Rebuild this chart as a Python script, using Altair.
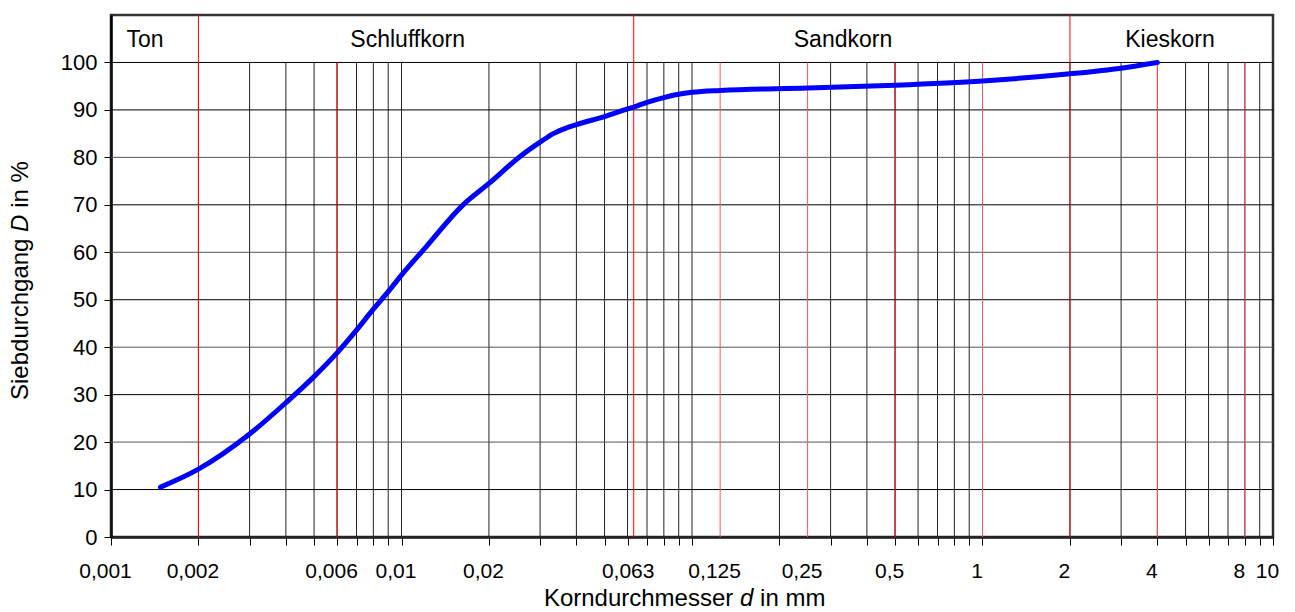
import altair as alt
import pandas as pd

# ---- data ----
d_mm = [0.00148, 0.002, 0.003, 0.004, 0.005, 0.006, 0.007, 0.008, 0.009, 0.01,
        0.0119, 0.0163, 0.02, 0.0256, 0.03, 0.0333, 0.037, 0.04, 0.05, 0.06, 0.063,
        0.07, 0.08, 0.09, 0.1, 0.125, 0.25, 0.5, 1, 2, 3, 4]
D_pct = [10.5, 14.3, 21.7, 28.3, 33.8, 38.8, 43.6, 48.0, 51.7, 55.2,
         60.5, 70.0, 74.5, 80.2, 83.2, 85.0, 86.2, 86.9, 88.6, 90.2, 90.6,
         91.6, 92.6, 93.3, 93.7, 94.1, 94.6, 95.2, 96.1, 97.6, 98.8, 100]

grid_x = [round(m * 10 ** k, 6) for k in range(-3, 1) for m in range(1, 10)] + [10]
red_x = [0.002, 0.006, 0.063, 0.125, 0.25, 0.5, 1, 2, 4, 8]
red_top = [110, 100, 110, 100, 100, 100, 100, 110, 100, 100]
red_col = ["#ff0000", "#ff0000", "#ff0000", "#ff5555", "#ff5555", "#ff0000",
           "#ff5555", "#ff0000", "#ff5555", "#ff5555"]
grid_y = [10, 20, 30, 40, 50, 60, 70, 80, 90, 100]
grid_y_col = ["#000000", "#555555", "#000000", "#555555", "#000000", "#555555",
              "#000000", "#555555", "#000000", "#000000"]
label_x = [0.001, 0.002, 0.006, 0.01, 0.02, 0.063, 0.125, 0.25, 0.5, 1, 2, 4, 8, 10]
zones = ["Ton", "Schluffkorn", "Sandkorn", "Kieskorn"]
zone_x = [0.00131, 0.0105, 0.331, 4.42]
y_ticks = [0, 10, 20, 30, 40, 50, 60, 70, 80, 90, 100]

# axis titles, split so the symbol letter can be italic
x_title_parts = ["Korndurchmesser", "d", "in mm"]
y_title_parts = ["Siebdurchgang", "D", "in %"]

FONT = "Liberation Sans"
W, H = 1162, 522
LAB = 21
TIT = 24

xs = alt.Scale(type="log", domain=[0.001, 10], nice=False)
ys = alt.Scale(domain=[0, 110], nice=False, zero=False)

curve = pd.DataFrame({"d": d_mm, "D": D_pct})
vgrid = pd.DataFrame({"x": grid_x, "y0": 0, "y1": 100})
hgrid = pd.DataFrame({"y": grid_y, "x0": 0.001, "x1": 10, "c": grid_y_col})
reds = pd.DataFrame({"x": red_x, "y0": 0, "y1": red_top, "c": red_col})
zone_df = pd.DataFrame({"label": zones, "x": zone_x, "y": 104.7})

tick_values = sorted(set(grid_x + label_x))
lab_list = ",".join(str(v) for v in label_x)

x_axis = alt.Axis(
    title="",
    values=tick_values,
    labelExpr=f"indexof([{lab_list}], datum.value) >= 0 ? replace(toString(datum.value), '.', ',') : ''",
    tickOpacity={"condition": {"test": "indexof([0.063,0.125,0.25], datum.value) >= 0", "value": 0}, "value": 1},
    grid=False, tickSize=8, tickColor="#000000", domainColor="#222222", domainWidth=2.5,
    labelFont=FONT, labelFontSize=LAB, labelColor="#000000", labelPadding=15,
    labelOffset=-6, labelFlush=False, labelOverlap=False,
)
y_axis = alt.Axis(
    title="",
    values=y_ticks, grid=False, tickSize=7, tickColor="#000000",
    domainColor="#000000", domainWidth=2.5,
    labelFont=FONT, labelFontSize=22, labelColor="#000000", labelPadding=7,
)

v_layer = alt.Chart(vgrid).mark_rule(color="#222222", strokeWidth=1).encode(
    x=alt.X("x:Q", scale=xs, axis=x_axis),
    y=alt.Y("y0:Q", scale=ys, axis=y_axis),
    y2="y1:Q",
)
h_layer = alt.Chart(hgrid).mark_rule(strokeWidth=1).encode(
    x=alt.X("x0:Q", scale=xs, axis=x_axis),
    x2="x1:Q",
    y=alt.Y("y:Q", scale=ys, axis=y_axis),
    color=alt.Color("c:N", scale=None),
)
r_layer = alt.Chart(reds).mark_rule(strokeWidth=1).encode(
    x=alt.X("x:Q", scale=xs, axis=x_axis),
    y=alt.Y("y0:Q", scale=ys, axis=y_axis),
    y2="y1:Q",
    color=alt.Color("c:N", scale=None),
)
line = alt.Chart(curve).mark_line(
    color="#0000ff", strokeWidth=5, interpolate="monotone", strokeCap="round"
).encode(
    x=alt.X("d:Q", scale=xs, axis=x_axis),
    y=alt.Y("D:Q", scale=ys, axis=y_axis),
)
text = alt.Chart(zone_df).mark_text(font=FONT, fontSize=23, color="#000000", baseline="middle").encode(
    x=alt.X("x:Q", scale=xs, axis=x_axis),
    y=alt.Y("y:Q", scale=ys, axis=y_axis),
    text="label:N",
)

# ---- axis titles (layout text, with italic symbol) ----
one = pd.DataFrame({"k": [0]})
xt_y = 591          # baseline, relative to plot top
xt_d = 629          # left edge of italic "d"
xt_gap = 6.7
d_w = 0.556 * TIT
xt1 = alt.Chart(one).mark_text(font=FONT, fontSize=TIT, color="#000", align="right", baseline="alphabetic",
                               text=x_title_parts[0]).encode(x=alt.value(xt_d - xt_gap), y=alt.value(xt_y))
xt2 = alt.Chart(one).mark_text(font=FONT, fontSize=TIT, color="#000", align="left", baseline="alphabetic",
                               fontStyle="italic", text=x_title_parts[1]).encode(x=alt.value(xt_d), y=alt.value(xt_y))
xt3 = alt.Chart(one).mark_text(font=FONT, fontSize=TIT, color="#000", align="left", baseline="alphabetic",
                               text=x_title_parts[2]).encode(x=alt.value(xt_d + d_w + xt_gap), y=alt.value(xt_y))

yt_x = -83          # baseline, relative to plot left
yt_start = 385      # bottom end of title, relative to plot top
w1 = 6.726 * TIT
D_w = 0.722 * TIT
yD = yt_start - w1 - xt_gap
yt1 = alt.Chart(one).mark_text(font=FONT, fontSize=TIT, color="#000", align="left", baseline="alphabetic",
                               angle=270, text=y_title_parts[0]).encode(x=alt.value(yt_x), y=alt.value(yt_start))
yt2 = alt.Chart(one).mark_text(font=FONT, fontSize=TIT, color="#000", align="left", baseline="alphabetic",
                               angle=270, fontStyle="italic", text=y_title_parts[1]).encode(x=alt.value(yt_x), y=alt.value(yD))
yt3 = alt.Chart(one).mark_text(font=FONT, fontSize=TIT, color="#000", align="left", baseline="alphabetic",
                               angle=270, text=y_title_parts[2]).encode(x=alt.value(yt_x), y=alt.value(yD - D_w - xt_gap))

chart = alt.layer(v_layer, h_layer, r_layer, line, text, xt1, xt2, xt3, yt1, yt2, yt3).properties(
    width=W, height=H,
    autosize=alt.AutoSizeParams(type="none"),
    padding={"left": 111, "top": 15, "right": 22, "bottom": 75},
    background="#ffffff",
).configure_view(stroke="#333333", strokeWidth=2.5)

chart.save("out.html", embed_options={"renderer": "svg", "actions": False})
